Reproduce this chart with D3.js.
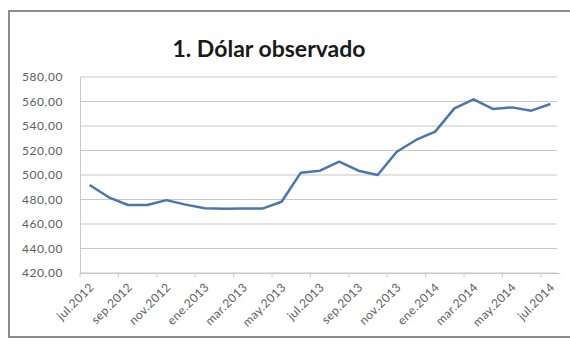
<!DOCTYPE html>
<html><head><meta charset="utf-8">
<script src="https://cdn.jsdelivr.net/npm/d3@7"></script>
<style>html,body{margin:0;padding:0;background:#fff;}svg{display:block;}</style>
</head><body>
<svg id="c" width="570" height="347"></svg>
<script>
const months = ["jul.2012","ago.2012","sep.2012","oct.2012","nov.2012","dic.2012","ene.2013","feb.2013","mar.2013","abr.2013","may.2013","jun.2013","jul.2013","ago.2013","sep.2013","oct.2013","nov.2013","dic.2013","ene.2014","feb.2014","mar.2014","abr.2014","may.2014","jun.2014","jul.2014"];
const values = [491.8,481.8,475.5,475.5,479.5,475.8,472.8,472.4,472.6,472.6,478.2,501.9,503.5,510.9,503.5,500.0,519.0,528.6,535.4,554.4,561.8,553.9,555.2,552.5,558.0];
const yTicks = [420,440,460,480,500,520,540,560,580];
const title = "1. Dólar observado";

const svg = d3.select("#c");
const font = "Lato, 'Open Sans', sans-serif";
svg.append("rect").attr("x",9).attr("y",11).attr("width",570).attr("height",326)
  .attr("fill","#fff").attr("stroke","#8c8c8c").attr("stroke-width",2);

const L=80, R=560, T=77, B=273;
const x = d3.scaleBand().domain(months).range([L,R]);
const y = d3.scaleLinear().domain([420,580]).range([B,T]);

svg.append("text").attr("x",269).attr("y",57).attr("text-anchor","middle")
  .attr("font-family",font).attr("font-weight","bold").attr("font-size",23).attr("fill","#1a1a1a").text(title);

svg.append("g").selectAll("line").data(yTicks).join("line")
  .attr("x1",L).attr("x2",557).attr("y1",d=>y(d)).attr("y2",d=>y(d))
  .attr("stroke","#c8c8c8").attr("stroke-width",1.2);

const yAxis = d3.axisLeft(y).tickValues(yTicks).tickSize(0).tickPadding(17)
  .tickFormat(d=>d3.format(".2f")(d).replace(".",","));
const gy = svg.append("g").attr("transform",`translate(${L},0)`).call(yAxis);
gy.select(".domain").attr("stroke","#c8c8c8");
gy.selectAll("text").attr("font-family",font).attr("font-size",12).attr("letter-spacing",0.6).attr("fill","#606060");

const xAxis = d3.axisBottom(x).tickValues(months.filter((d,i)=>i%2===0)).tickSize(0).tickPadding(0);
const gx = svg.append("g").attr("transform",`translate(0,${B})`).call(xAxis);
gx.select(".domain").attr("stroke","#c8c8c8");
gx.selectAll(".tick text").attr("font-family",font).attr("font-size",12).attr("letter-spacing",0.4).attr("fill","#606060")
  .attr("text-anchor","end").attr("dy",null).attr("y",0)
  .attr("transform","translate(5,15) rotate(-45)");
const tickPos = d3.range(0, months.length+1, 2).map(i=>L + i*x.step());
svg.append("g").selectAll("line").data(tickPos).join("line")
  .attr("x1",d=>d).attr("x2",d=>d).attr("y1",B).attr("y2",B+4)
  .attr("stroke","#c8c8c8");

const line = d3.line().x((d,i)=>x(months[i])+x.bandwidth()/2).y(d=>y(d));
svg.append("path").datum(values).attr("d",line).attr("fill","none")
  .attr("stroke","#4a76ae").attr("stroke-width",2.5).attr("stroke-linejoin","round");
</script>
</body></html>
